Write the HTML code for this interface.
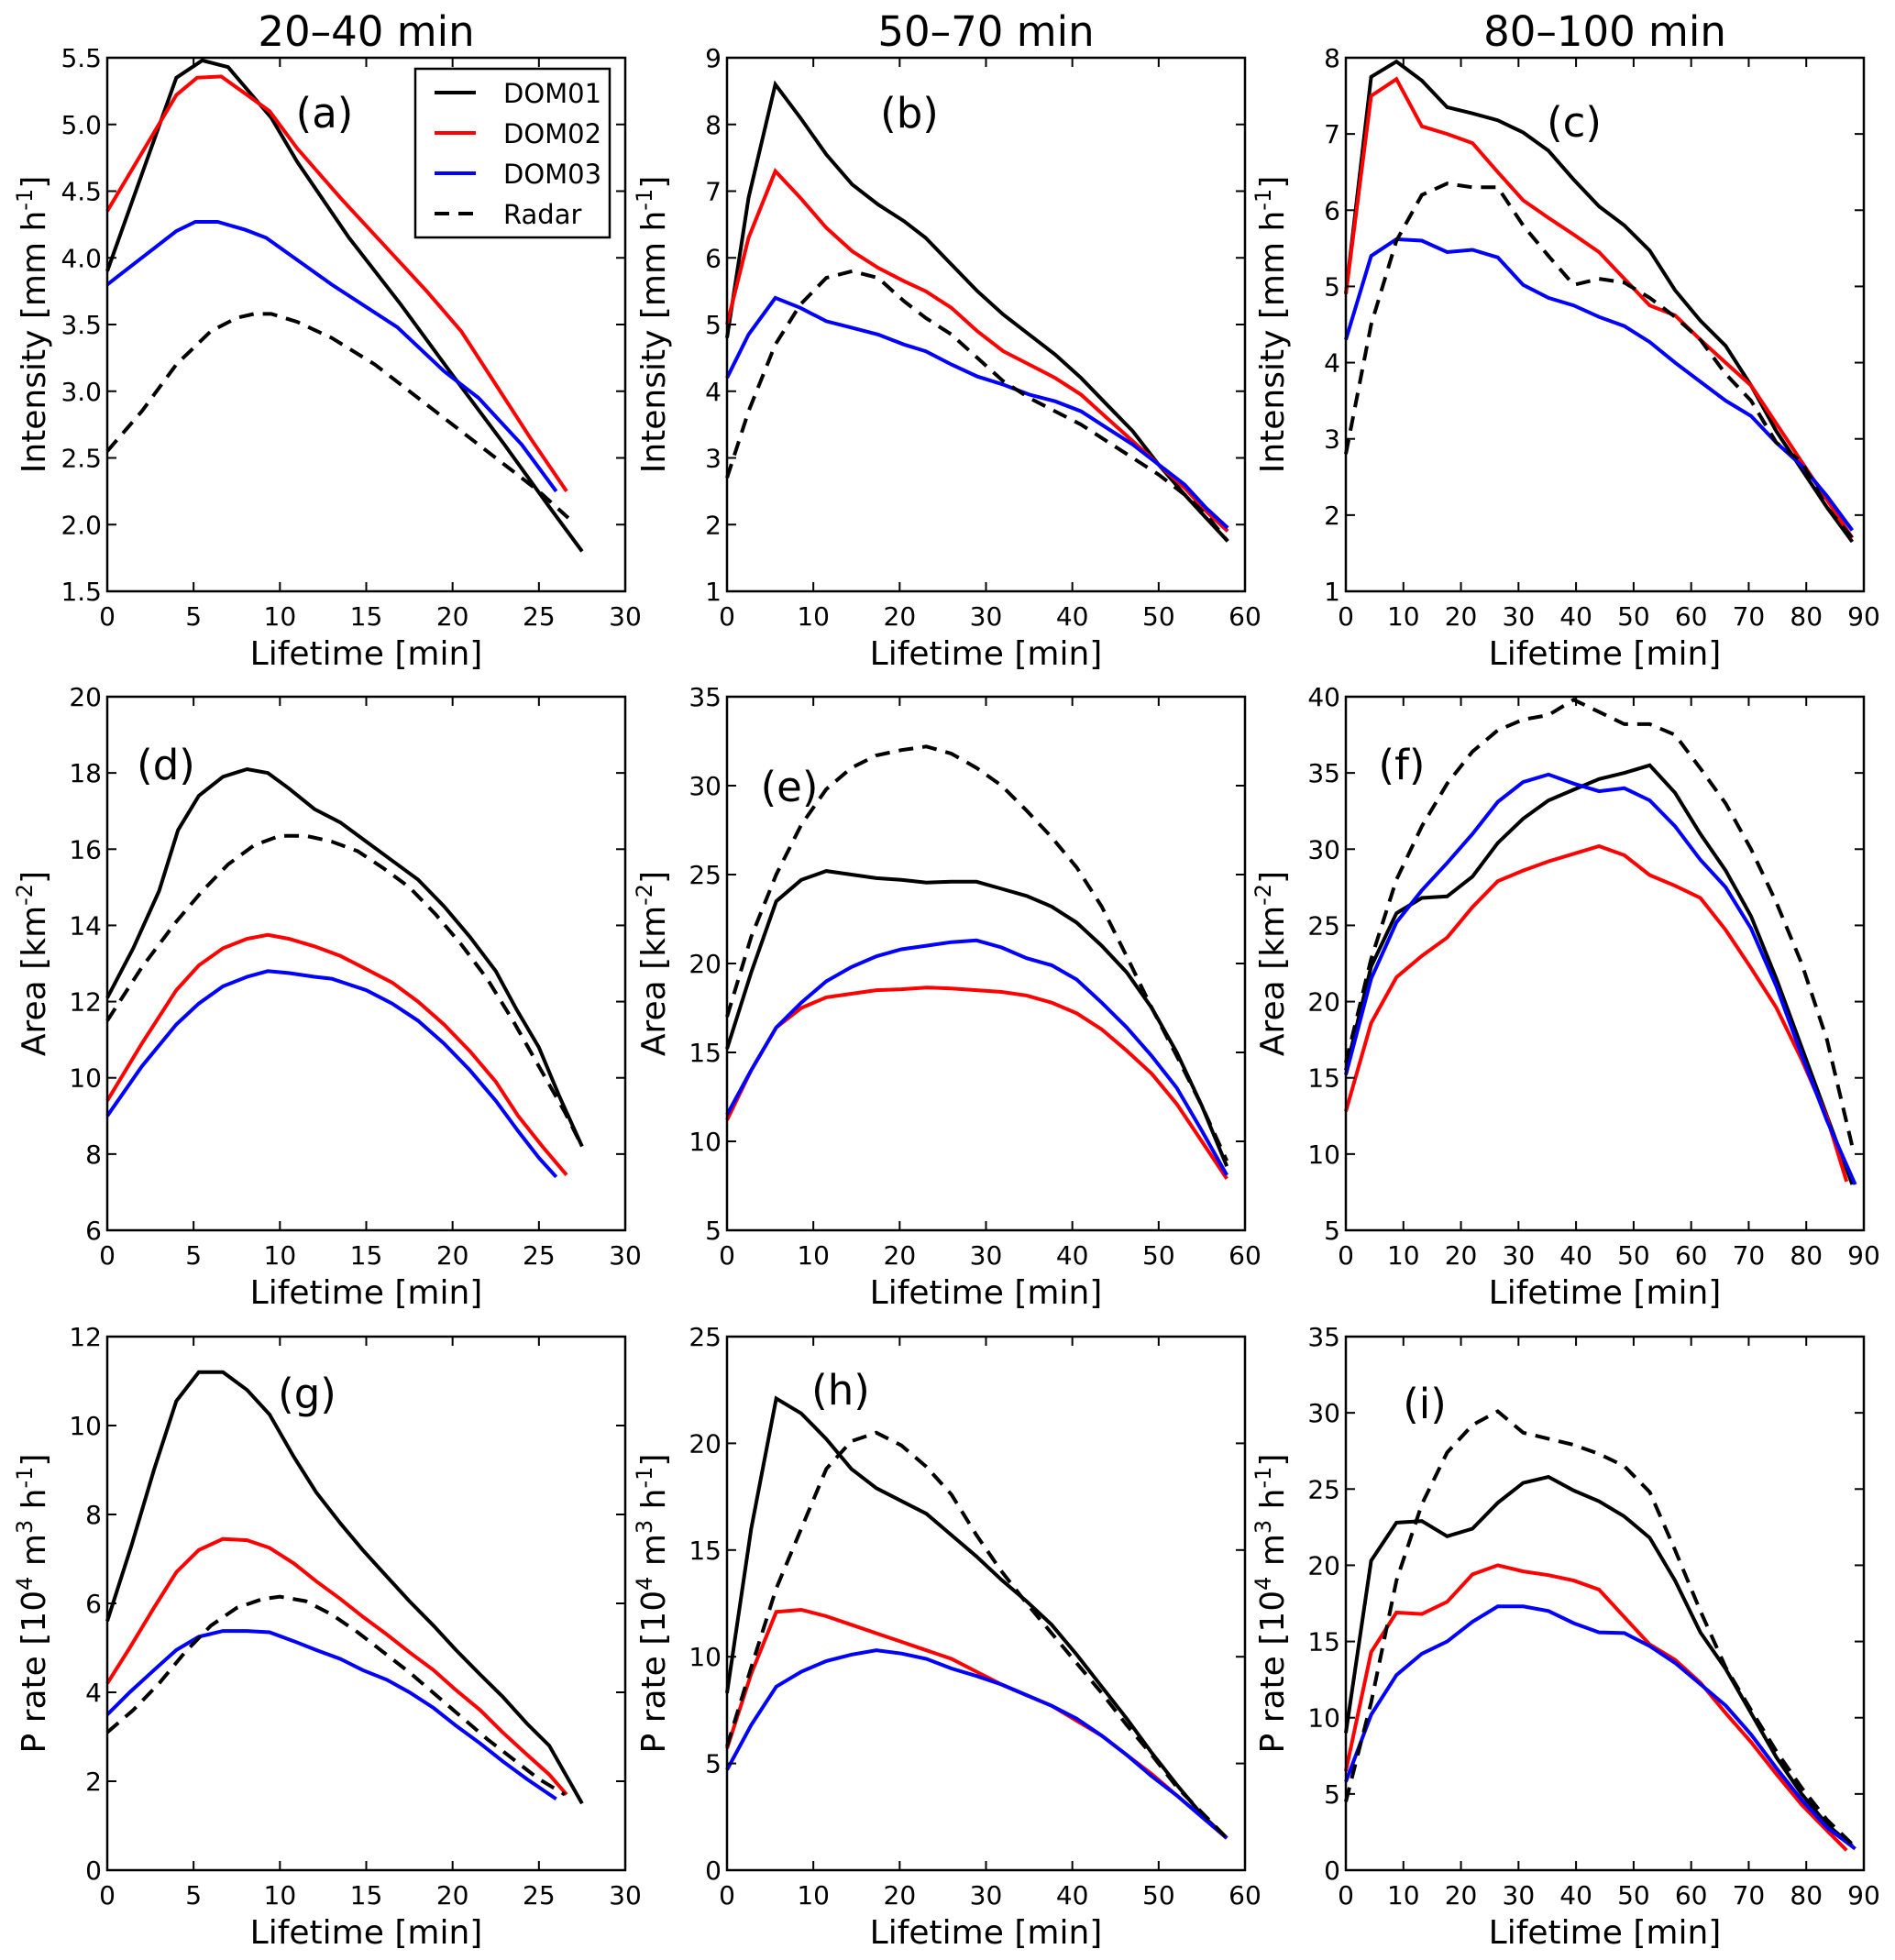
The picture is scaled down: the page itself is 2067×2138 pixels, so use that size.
<!DOCTYPE html>
<html><head><meta charset="utf-8"><style>
body{margin:0;background:#fff}
svg{display:block}
text{font-family:"DejaVu Sans","Liberation Sans",sans-serif;fill:#000}
</style></head><body>
<svg id="fig" width="2067" height="2138" viewBox="0 0 2067 2138" xmlns="http://www.w3.org/2000/svg"></svg>
<script>
// ---- data ----
const panelIds = ['a','b','c','d','e','f','g','h','i'];
const xMaxs = [30,60,90,30,60,90,30,60,90];
const yMins = [1.5,1,1,6,5,5,0,0,0];
const yMaxs = [5.5,9,8,20,35,40,12,25,35];
const yStepsArr = [0.5,1,1,2,5,5,2,5,5];
const xStepsArr = [5,10,10,5,10,10,5,10,10];
const colTitles = ['20–40 min','50–70 min','80–100 min'];
const seriesNames = ['DOM01','DOM02','DOM03','Radar'];
const seriesColors = ['#000','#f00','#00f','#000'];

const a_x1=[0,4,5.5,7,9.5,11,14,17,20,23,25.5,27.5], a_y1=[3.9,5.35,5.48,5.43,5.05,4.72,4.15,3.65,3.12,2.6,2.15,1.8];
const a_x2=[0,4,5.2,6.6,8,9.4,11,13.5,16,18.5,20.5,22.5,24.5,26.6], a_y2=[4.35,5.22,5.35,5.36,5.23,5.1,4.82,4.45,4.1,3.75,3.45,3.05,2.65,2.25];
const a_x3=[0,4,5.1,6.4,8,9.2,13,16.8,19.5,21.5,24,26], a_y3=[3.8,4.2,4.27,4.27,4.21,4.15,3.8,3.48,3.15,2.95,2.6,2.25];
const a_x4=[0,2,4,6,7.5,8.5,9.5,11,13,15.5,17.5,19,21,23,25,26.7], a_y4=[2.55,2.85,3.2,3.45,3.55,3.58,3.58,3.52,3.4,3.2,3.0,2.85,2.65,2.45,2.25,2.05];

const tB=[0,2.5,5.6,8.5,11.5,14.5,17.5,20.5,23,26,29,32,35,38,41,44,47,50,53,55.5,58];
const b_y1=[4.8,6.9,8.6,8.1,7.55,7.1,6.8,6.55,6.3,5.9,5.5,5.15,4.85,4.55,4.2,3.8,3.4,2.9,2.45,2.1,1.75];
const b_y2=[5.0,6.3,7.3,6.9,6.45,6.1,5.85,5.65,5.5,5.25,4.9,4.6,4.4,4.2,3.95,3.6,3.25,2.9,2.55,2.2,1.9];
const b_y3=[4.2,4.85,5.4,5.25,5.05,4.95,4.85,4.7,4.6,4.4,4.22,4.1,3.95,3.85,3.7,3.45,3.2,2.9,2.6,2.25,1.95];
const b_y4=[2.7,3.7,4.7,5.3,5.7,5.8,5.7,5.35,5.1,4.85,4.5,4.15,3.9,3.7,3.5,3.25,3.0,2.75,2.45,2.15,1.75];

const tC=[0,4.4,8.8,13.2,17.6,22,26.4,30.8,35.2,39.6,44,48.4,52.8,57.2,61.6,66,70.4,74.8,79.2,83.6,88];
const c_y1=[4.9,7.75,7.95,7.7,7.35,7.27,7.18,7.02,6.78,6.4,6.05,5.8,5.47,4.95,4.55,4.22,3.7,3.1,2.6,2.1,1.65];
const c_y2=[4.9,7.5,7.72,7.1,7.0,6.88,6.5,6.13,5.9,5.68,5.45,5.1,4.75,4.62,4.3,4.0,3.7,3.2,2.7,2.2,1.7];
const c_y3=[4.3,5.4,5.62,5.6,5.45,5.48,5.38,5.02,4.85,4.75,4.6,4.48,4.27,4.0,3.75,3.5,3.3,2.95,2.65,2.25,1.8];
const c_y4=[2.8,4.5,5.6,6.2,6.35,6.3,6.3,5.8,5.4,5.02,5.1,5.05,4.85,4.6,4.3,3.85,3.5,2.95,2.7,2.1,1.7];

const d_x1=[0,1.5,3,4.1,5.3,6.7,8.1,9.3,10.5,12,13.5,15,16.5,18,19.5,21,22.5,23.7,25,26.2,27.5], d_y1=[12.1,13.4,14.9,16.5,17.4,17.9,18.1,18.0,17.6,17.05,16.7,16.2,15.7,15.2,14.5,13.7,12.8,11.8,10.8,9.5,8.2];
const d_x2=[0,2,4,5.3,6.7,8.1,9.3,10.5,12,13.5,15,16.5,18,19.5,21,22.5,23.8,25.2,26.6], d_y2=[9.4,10.9,12.3,12.95,13.4,13.65,13.75,13.65,13.45,13.2,12.85,12.5,12.0,11.4,10.7,9.9,9.0,8.2,7.45];
const d_x3=[0,2,4,5.3,6.7,8.1,9.3,10.5,12,13,15,16.5,18,19.5,21,22.5,23.8,25,26], d_y3=[9.0,10.3,11.4,11.95,12.4,12.65,12.8,12.75,12.65,12.6,12.3,11.95,11.5,10.9,10.2,9.4,8.6,7.9,7.4];
const d_x4=[0,2,4,5.5,7,8.5,10,11.5,13,14.5,16,17.5,19,20.5,22,23.5,25,26.5,27.5], d_y4=[11.5,12.9,14.1,14.9,15.6,16.1,16.35,16.35,16.2,15.95,15.5,15.0,14.3,13.5,12.6,11.5,10.3,9.1,8.2];

const tE=[0,2.8,5.7,8.6,11.5,14.4,17.3,20.2,23.1,26,28.9,31.8,34.7,37.6,40.5,43.4,46.3,49.2,52.1,55,57.9];
const e_y1=[15.2,19.5,23.5,24.7,25.2,25.0,24.8,24.7,24.55,24.6,24.6,24.2,23.8,23.2,22.3,21.0,19.5,17.5,15.0,12.0,8.6];
const e_y2=[11.2,14.0,16.4,17.5,18.1,18.3,18.5,18.55,18.65,18.6,18.5,18.4,18.2,17.8,17.2,16.3,15.1,13.8,12.1,10.0,7.9];
const e_y3=[11.5,14.0,16.4,17.8,19.0,19.8,20.4,20.8,21.0,21.2,21.3,20.9,20.3,19.9,19.1,17.8,16.4,14.8,13.0,10.6,8.1];
const e_y4=[17.0,21.5,25.0,27.8,29.8,31.0,31.7,32.0,32.2,31.8,31.0,30.0,28.6,27.1,25.4,23.2,20.4,17.5,14.8,12.0,8.9];

const f_y1=[15.5,22.3,25.8,26.8,26.9,28.2,30.4,32.0,33.2,33.9,34.6,35.0,35.5,33.7,31.0,28.6,25.6,21.5,17.0,12.5,8.0];
const f_x2=[0,4.4,8.8,13.2,17.6,22,26.4,30.8,35.2,39.6,44,48.4,52.8,57.2,61.6,66,70.4,74.8,79.2,83.6,87];
const f_y2=[12.8,18.6,21.6,23.0,24.2,26.2,27.9,28.6,29.2,29.7,30.2,29.6,28.3,27.6,26.8,24.7,22.2,19.6,16.2,12.4,8.2];
const f_x3=[0,4.4,8.8,13.2,17.6,22,26.4,30.8,35.2,39.6,44,48.4,52.8,57.2,61.6,66,70.4,74.8,79.2,83.6,88.5];
const f_y3=[15.2,21.5,25.2,27.3,29.1,31.0,33.1,34.4,34.9,34.3,33.8,34.0,33.2,31.5,29.3,27.5,24.8,21.0,16.5,12.2,8.0];
const f_y4=[16.0,22.8,28.0,31.5,34.3,36.4,37.8,38.5,38.8,39.8,39.0,38.2,38.2,37.5,35.3,33.0,30.0,26.5,22.5,17.5,10.5];

const g_x1=[0,1.4,2.7,4,5.3,6.7,8.1,9.4,10.8,12.1,13.5,14.8,16.2,17.5,18.9,20.2,21.6,22.9,24.3,25.6,27.5], g_y1=[5.6,7.3,9.0,10.55,11.2,11.2,10.8,10.25,9.3,8.5,7.8,7.2,6.6,6.05,5.5,4.95,4.4,3.9,3.3,2.8,1.5];
const g_x2=[0,1.3,2.7,4,5.3,6.7,8.1,9.4,10.8,12.1,13.5,14.8,16.2,17.5,18.9,20.2,21.6,22.9,24.3,25.6,26.6], g_y2=[4.2,5.0,5.9,6.7,7.2,7.45,7.42,7.25,6.9,6.5,6.1,5.7,5.3,4.9,4.5,4.05,3.6,3.1,2.6,2.15,1.7];
const g_x3=[0,1.3,2.7,4,5.3,6.7,8.1,9.4,10.8,12.1,13.5,14.8,16.2,17.5,18.9,20.2,21.6,22.9,24.3,26], g_y3=[3.5,4.0,4.5,4.95,5.25,5.38,5.38,5.35,5.15,4.95,4.75,4.5,4.28,4.0,3.65,3.25,2.85,2.45,2.05,1.6];
const g_x4=[0,1.5,3,4.5,6,7.5,9,10,11.5,13,14.5,16,17.5,19,20.5,22,23.5,25,26.5], g_y4=[3.1,3.6,4.2,4.9,5.5,5.9,6.1,6.15,6.05,5.75,5.35,4.9,4.45,3.95,3.45,2.95,2.5,2.05,1.7];

const h_y1=[8.3,16,22.1,21.4,20.2,18.8,17.9,17.3,16.7,15.7,14.7,13.6,12.6,11.5,10.1,8.6,7.1,5.5,4.0,2.6,1.5];
const h_y2=[5.7,9.2,12.1,12.2,11.9,11.5,11.1,10.7,10.3,9.9,9.3,8.7,8.2,7.7,7.0,6.3,5.4,4.5,3.5,2.5,1.5];
const h_y3=[4.7,6.8,8.6,9.3,9.8,10.1,10.3,10.15,9.9,9.45,9.1,8.7,8.2,7.7,7.1,6.3,5.4,4.4,3.5,2.5,1.5];
const h_y4=[5.8,9.5,13.2,16.0,18.8,20.1,20.5,19.9,18.9,17.6,15.7,14.0,12.5,11.1,9.7,8.3,6.8,5.4,3.9,2.7,1.5];

const i_y1=[9.0,20.3,22.8,22.9,21.9,22.4,24.1,25.4,25.8,24.9,24.2,23.2,21.8,19.0,15.6,13.2,10.3,7.4,5.0,3.0,1.6];
const i_y2=[6.5,14.3,16.9,16.8,17.6,19.4,20.0,19.6,19.35,19.0,18.4,16.6,14.8,13.8,12.3,10.3,8.4,6.3,4.3,2.6,1.3];
const i_y3=[5.8,10.2,12.8,14.2,15.0,16.3,17.3,17.3,17.0,16.2,15.6,15.55,14.7,13.6,12.2,10.8,8.9,6.7,4.6,2.8,1.4];
const i_y4=[4.5,11.0,19.0,24.0,27.4,29.2,30.1,28.7,28.3,27.9,27.3,26.5,24.8,21.0,17.0,13.3,10.5,7.8,5.4,3.3,1.7];

const panelXs = [[a_x1,a_x2,a_x3,a_x4],[tB,tB,tB,tB],[tC,tC,tC,tC],[d_x1,d_x2,d_x3,d_x4],[tE,tE,tE,tE],[tC,f_x2,f_x3,tC],[g_x1,g_x2,g_x3,g_x4],[tE,tE,tE,tE],[tC,f_x2,f_x3,tC]];
const panelYs = [[a_y1,a_y2,a_y3,a_y4],[b_y1,b_y2,b_y3,b_y4],[c_y1,c_y2,c_y3,c_y4],[d_y1,d_y2,d_y3,d_y4],[e_y1,e_y2,e_y3,e_y4],[f_y1,f_y2,f_y3,f_y4],[g_y1,g_y2,g_y3,g_y4],[h_y1,h_y2,h_y3,h_y4],[i_y1,i_y2,i_y3,i_y4]];

// ---- layout ----
const NS='http://www.w3.org/2000/svg';
const svg=document.getElementById('fig');
const colLeft=[117,793,1468], rowTop=[63,760,1458], W=565, H=582;
const labelOff=[[237,76],[199,76],[249,86],[64,90],[68,114],[61,90],[218,78],[124,74],[86,89]];
function mk(tag,attrs,parent){const e=document.createElementNS(NS,tag);for(const k in attrs)e.setAttribute(k,attrs[k]);(parent||svg).appendChild(e);return e;}

colTitles.forEach((t,c)=>{
  const e=mk('text',{x:colLeft[c]+W/2,y:50,'font-size':45,'text-anchor':'middle'});
  
  
  e.textContent=t;
});

panelIds.forEach((id,p)=>{
  const r=Math.floor(p/3), c=p%3;
  const L=colLeft[c], T=rowTop[r];
  const g=mk('g',{});
  
  
  const xs=v=>L+v/xMaxs[p]*W;
  const ys=v=>T+H-(v-yMins[p])/(yMaxs[p]-yMins[p])*H;
  for(let s=0;s<4;s++){
    const X=panelXs[p][s], Y=panelYs[p][s];
    const pts=X.map((x,k)=>xs(x).toFixed(1)+','+ys(Y[k]).toFixed(1)).join(' ');
    const pl=mk('polyline',{points:pts,fill:'none',stroke:seriesColors[s],'stroke-width':4,'stroke-linejoin':'miter'},g);
    if(s===3)pl.setAttribute('stroke-dasharray','16,10');
    
    
  }
  const fr=mk('rect',{x:L,y:T,width:W,height:H,fill:'none',stroke:'#000','stroke-width':2.5},g);
  
  
  for(let v=0;v<=xMaxs[p]+1e-9;v+=xStepsArr[p]){
    const x=xs(v);
    mk('line',{x1:x,y1:T+H,x2:x,y2:T+H-10,stroke:'#000','stroke-width':2},g);
    mk('line',{x1:x,y1:T,x2:x,y2:T+10,stroke:'#000','stroke-width':2},g);
    const t=mk('text',{x:x,y:T+H+37,'font-size':28,'text-anchor':'middle'},g);
    
    
    t.textContent=String(v);
  }
  const st=yStepsArr[p];
  for(let k=0;yMins[p]+k*st<=yMaxs[p]+1e-9;k++){
    const v=yMins[p]+k*st, y=ys(v);
    mk('line',{x1:L,y1:y,x2:L+10,y2:y,stroke:'#000','stroke-width':2},g);
    mk('line',{x1:L+W,y1:y,x2:L+W-10,y2:y,stroke:'#000','stroke-width':2},g);
    const t=mk('text',{x:L-6,y:y+10,'font-size':28,'text-anchor':'end'},g);
    
    
    t.textContent=st<1?v.toFixed(1):String(v);
  }
  const xl=mk('text',{x:L+W/2,y:T+H+80,'font-size':36,'text-anchor':'middle'},g);
  
  
  xl.textContent='Lifetime [min]';
  const yl=mk('text',{x:0,y:0,'font-size':36,'text-anchor':'middle',transform:`translate(${L-68},${T+H/2}) rotate(-90)`},g);
  
  
  if(r===0) yl.innerHTML='Intensity [mm h<tspan baseline-shift="super" font-size="24">-1</tspan>]';
  else if(r===1) yl.innerHTML='Area [km<tspan baseline-shift="super" font-size="24">-2</tspan>]';
  else yl.innerHTML='P rate [10<tspan baseline-shift="super" font-size="24">4</tspan> m<tspan baseline-shift="super" font-size="24">3</tspan> h<tspan baseline-shift="super" font-size="24">-1</tspan>]';
  const pl=mk('text',{x:L+labelOff[p][0],y:T+labelOff[p][1],'font-size':45,'text-anchor':'middle'},g);
  
  
  pl.textContent='('+id+')';
});

const lg=mk('g',{});


mk('rect',{x:453,y:75,width:212,height:184,fill:'#fff',stroke:'#000','stroke-width':2.5},lg);
const legY=[101,145,189,233];
seriesNames.forEach((n,s)=>{
  const ln=mk('line',{x1:474,y1:legY[s],x2:519,y2:legY[s],stroke:seriesColors[s],'stroke-width':4},lg);
  if(s===3)ln.setAttribute('stroke-dasharray','16,10');
  
  
  const t=mk('text',{x:549,y:legY[s]+11,'font-size':29},lg);
  
  
  t.textContent=n;
});
</script>
</body></html>
